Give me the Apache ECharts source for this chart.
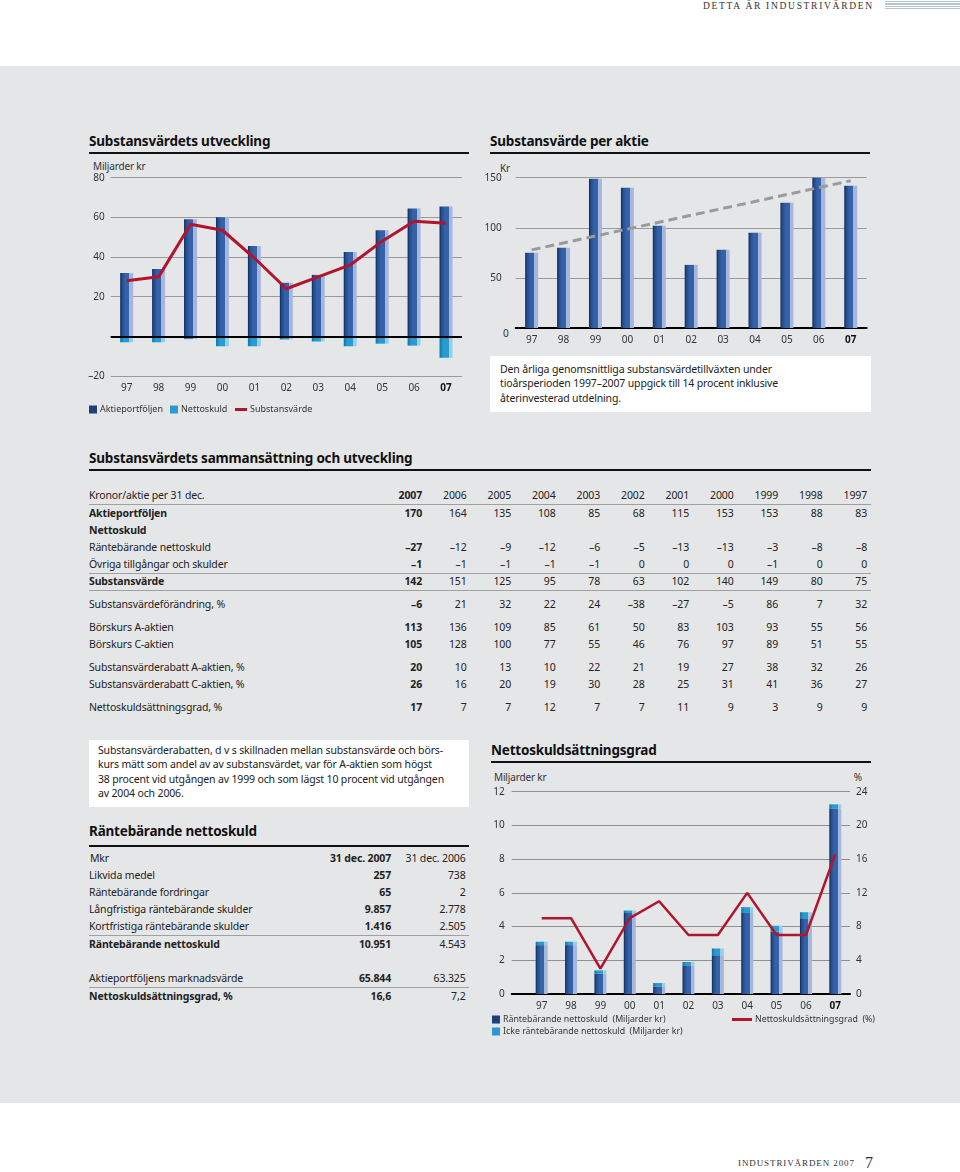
<!DOCTYPE html>
<html lang="sv">
<head>
<meta charset="utf-8">
<title>Substansvärdets utveckling</title>
<script src="https://cdn.jsdelivr.net/npm/echarts@6/dist/echarts.min.js"></script>
<style>
  html, body { margin: 0; padding: 0; }
  body { width: 960px; height: 1172px; position: relative; background: #fff; font-family: 'Noto Sans', sans-serif; color: #222; overflow: hidden; }
  .panel { position: absolute; left: 0; top: 66px; width: 960px; height: 1037px; background: #e5e6e7; }
  .t { position: absolute; white-space: nowrap; font-size: 10.5px; line-height: 14px; letter-spacing: -0.15px; }
  .r { text-align: right; }
  .b { font-weight: bold; }
  .h { position: absolute; font-weight: bold; font-size: 13.5px; letter-spacing: -0.2px; white-space: nowrap; line-height: 18px; color: #111; }
  .rule { position: absolute; height: 2px; background: #111; }
  .hair { position: absolute; height: 1px; background: #a0a0a0; }
  .box { position: absolute; background: #fff; }
  .chart { position: absolute; }
  .serif { position: absolute; font-family: 'Liberation Serif', 'DejaVu Serif', serif; white-space: nowrap; color: #333; }
</style>
</head>
<body>
<div class="panel"></div>

<!-- sidhuvud / sidfot -->
<div class="serif" style="left:703px; top:0px; font-size:9.5px; letter-spacing:1.7px; line-height:12px;">DETTA ÄR INDUSTRIVÄRDEN</div>
<div style="position:absolute; left:885px; top:1px; width:75px; height:8px; background:repeating-linear-gradient(#b7c3ce 0 1px, #fff 1px 2.5px);"></div>
<div class="serif" style="left:738px; top:1157px; font-size:9px; letter-spacing:0.9px; line-height:12px;">INDUSTRIVÄRDEN 2007</div>
<div class="serif" style="left:865px; top:1154px; font-size:16px; line-height:18px;">7</div>

<!-- diagram 1 -->
<div class="h" style="left:89px; top:132px;">Substansvärdets utveckling</div>
<div class="rule" style="left:89px; top:152px; width:380px;"></div>
<div class="t" style="left:93px; top:159px; font-size:10px; color:#333;">Miljarder kr</div>
<div id="c1" class="chart" style="left:80px; top:155px; width:400px; height:270px;"></div>

<!-- diagram 2 -->
<div class="h" style="left:490px; top:132px;">Substansvärde per aktie</div>
<div class="rule" style="left:490px; top:152px; width:380px;"></div>
<div class="t" style="left:500px; top:161px; font-size:10px; color:#333;">Kr</div>
<div class="t" style="left:503px; top:326px; font-size:10px; color:#333;">0</div>
<div id="c2" class="chart" style="left:480px; top:155px; width:400px; height:195px;"></div>
<div class="box" style="left:490px; top:356px; width:381px; height:56px;"></div>
<div class="t" style="left:500px; top:362px; font-size:10.5px; line-height:14.3px;">Den årliga genomsnittliga substansvärdetillväxten under<br>tioårsperioden 1997–2007 uppgick till 14 procent inklusive<br>återinvesterad utdelning.</div>

<!-- tabell 1 -->
<div class="h" style="left:89px; top:449px;">Substansvärdets sammansättning och utveckling</div>
<div class="rule" style="left:89px; top:469px; width:782px;"></div>
<div class="hair" style="left:89px; top:504px; width:782px;"></div>
<div class="hair" style="left:89px; top:573px; width:782px;"></div>
<div class="hair" style="left:89px; top:590px; width:782px;"></div>

<!-- ruta vänster -->
<div class="box" style="left:89px; top:740px; width:380px; height:67px;"></div>
<div class="t" style="left:98px; top:743px; line-height:14.3px;">Substansvärderabatten, d v s skillnaden mellan substansvärde och börs-<br>kurs mätt som andel av av substansvärdet, var för A-aktien som högst<br>38 procent vid utgången av 1999 och som lägst 10 procent vid utgången<br>av 2004 och 2006.</div>

<!-- tabell 2 -->
<div class="h" style="left:89px; top:822px;">Räntebärande nettoskuld</div>
<div class="rule" style="left:89px; top:845px; width:380px;"></div>
<div class="hair" style="left:89px; top:935px; width:380px;"></div>
<div class="hair" style="left:89px; top:987px; width:380px;"></div>

<!-- diagram 3 -->
<div class="h" style="left:491px; top:741px;">Nettoskuldsättningsgrad</div>
<div class="rule" style="left:491px; top:761px; width:380px;"></div>
<div class="t" style="left:494px; top:770px; font-size:10px; color:#333;">Miljarder kr</div>
<div class="t r" style="right:98px; top:770px; font-size:10px; color:#333;">%</div>
<div id="c3" class="chart" style="left:480px; top:765px; width:420px; height:280px;"></div>

<script>
// ---- data ----
var cats = ['97', '98', '99', '00', '01', '02', '03', '04', '05', '06', '07'];

// Substansvärdets utveckling, miljarder kr
var aktieportfoljen = [32, 34, 59, 60, 45.5, 27, 31, 42.5, 53.5, 64.5, 65.5];
var nettoskuld = [-3, -3, -1.4, -5, -5, -1.6, -2.6, -5, -3.7, -4.7, -10.8];
var substansvarde = [28, 30, 56.5, 53.5, 39.5, 24, 30, 36, 48, 58, 57];

// Substansvärde per aktie, kr
var perAktie = [75, 80, 149, 140, 102, 63, 78, 95, 125, 151, 142];
var trendEnds = [78, 147];

// Nettoskuldsättningsgrad
var rantebarande = [2.9, 2.9, 1.2, 4.8, 0.45, 1.7, 2.3, 4.8, 3.7, 4.5, 11.0];
var ickeRantebarande = [0.2, 0.2, 0.2, 0.15, 0.2, 0.2, 0.4, 0.35, 0.35, 0.35, 0.25];
var skuldsattningsgrad = [9, 9, 3, 9, 11, 7, 7, 12, 7, 7, 16.6];

// Tabell: Kronor/aktie per 31 dec.
var tabYears = ['2007', '2006', '2005', '2004', '2003', '2002', '2001', '2000', '1999', '1998', '1997'];
var tabRows = [
  ['Aktieportföljen', true, [170, 164, 135, 108, 85, 68, 115, 153, 153, 88, 83]],
  ['Nettoskuld', true, null],
  ['Räntebärande nettoskuld', false, [-27, -12, -9, -12, -6, -5, -13, -13, -3, -8, -8]],
  ['Övriga tillgångar och skulder', false, [-1, -1, -1, -1, -1, 0, 0, 0, -1, 0, 0]],
  ['Substansvärde', true, [142, 151, 125, 95, 78, 63, 102, 140, 149, 80, 75]],
  ['Substansvärdeförändring, %', false, [-6, 21, 32, 22, 24, -38, -27, -5, 86, 7, 32]],
  ['Börskurs A-aktien', false, [113, 136, 109, 85, 61, 50, 83, 103, 93, 55, 56]],
  ['Börskurs C-aktien', false, [105, 128, 100, 77, 55, 46, 76, 97, 89, 51, 55]],
  ['Substansvärderabatt A-aktien, %', false, [20, 10, 13, 10, 22, 21, 19, 27, 38, 32, 26]],
  ['Substansvärderabatt C-aktien, %', false, [26, 16, 20, 19, 30, 28, 25, 31, 41, 36, 27]],
  ['Nettoskuldsättningsgrad, %', false, [17, 7, 7, 12, 7, 7, 11, 9, 3, 9, 9]]
];

// Tabell: Räntebärande nettoskuld, Mkr
var t2Head = ['Mkr', '31 dec. 2007', '31 dec. 2006'];
var t2Rows = [
  ['Likvida medel', false, '257', '738'],
  ['Räntebärande fordringar', false, '65', '2'],
  ['Långfristiga räntebärande skulder', false, '9.857', '2.778'],
  ['Kortfristiga räntebärande skulder', false, '1.416', '2.505'],
  ['Räntebärande nettoskuld', true, '10.951', '4.543'],
  ['Aktieportföljens marknadsvärde', false, '65.844', '63.325'],
  ['Nettoskuldsättningsgrad, %', true, '16,6', '7,2']
];

// ---- tabeller ----
function put(x, yc, html, cls, right) {
  var d = document.createElement('div');
  d.className = 't' + (cls ? ' ' + cls : '');
  d.innerHTML = html;
  d.style.top = (yc - 7) + 'px';
  if (right) { d.style.right = (960 - x) + 'px'; d.className += ' r'; }
  else d.style.left = x + 'px';
  document.body.appendChild(d);
}
function fmt(v) { return v < 0 ? '–' + Math.abs(v) : String(v); }

var colRight = [422, 466.5, 511, 555.5, 600, 644.5, 689, 733.5, 778, 822.5, 867];
var rowY = [512.5, 529.5, 547, 564, 581, 604, 627, 644, 667, 684, 707];
put(89, 495, 'Kronor/aktie per 31 dec.');
tabYears.forEach(function (y, j) { put(colRight[j], 495, y, j === 0 ? 'b' : '', true); });
tabRows.forEach(function (row, i) {
  put(89, rowY[i], row[0], row[1] ? 'b' : '');
  if (row[2]) row[2].forEach(function (v, j) { put(colRight[j], rowY[i], fmt(v), j === 0 ? 'b' : '', true); });
});

var t2Right = [391, 465.5];
var t2Y = [875, 892, 909, 926, 944, 978, 996];
put(90, 858, t2Head[0]);
put(t2Right[0], 858, t2Head[1], 'b', true);
put(t2Right[1], 858, t2Head[2], '', true);
t2Rows.forEach(function (row, i) {
  put(89, t2Y[i], row[0], row[1] ? 'b' : '');
  put(t2Right[0], t2Y[i], row[2], 'b', true);
  put(t2Right[1], t2Y[i], row[3], '', true);
});

// ---- diagram ----
var navy = '#1d3f7a', cyan = '#2a9ad0', red = '#b2142e';
function barFace() {
  return new echarts.graphic.LinearGradient(0, 0, 1, 0, [
    {offset: 0, color: '#10295a'},
    {offset: 0.15, color: '#244c8c'},
    {offset: 0.4, color: '#3461a8'},
    {offset: 0.7, color: '#3562a8'},
    {offset: 0.7, color: '#a5b8dc'},
    {offset: 1, color: '#a5b8dc'}
  ]);
}
function cyanFace() {
  return new echarts.graphic.LinearGradient(0, 0, 1, 0, [
    {offset: 0, color: '#0d78a8'},
    {offset: 0.3, color: '#2a9ad0'},
    {offset: 0.7, color: '#2a9ad0'},
    {offset: 0.7, color: '#95cfe8'},
    {offset: 1, color: '#95cfe8'}
  ]);
}
var font = 'Noto Sans';
var labelRich = {b: {fontWeight: 'bold', fontSize: 10, color: '#111', fontFamily: font}};
function catLabel(v) { return v === '07' ? '{b|07}' : v; }

// Substansvärdets utveckling
var leg1Text = {fontSize: 9, color: '#333', padding: [0, 0, 0, -2]};
var c1 = echarts.init(document.getElementById('c1'));
c1.setOption({
  animation: false,
  textStyle: {fontFamily: font},
  grid: {left: 30.7, right: 18, top: 22.7, bottom: 49},
  legend: [
    {left: 9, top: 250, itemWidth: 8, itemHeight: 8, itemGap: 7, padding: 0, textStyle: leg1Text,
      data: [
        {name: 'Aktieportföljen', icon: 'rect', itemStyle: {color: navy}},
        {name: 'Nettoskuld', icon: 'rect', itemStyle: {color: cyan}}
      ]},
    {left: 155, top: 250, itemWidth: 12, itemHeight: 3, padding: 0, textStyle: leg1Text,
      data: [{name: 'Substansvärde', icon: 'rect', itemStyle: {color: red}}]}
  ],
  xAxis: {
    type: 'category', data: cats,
    axisLine: {show: false, onZero: false}, axisTick: {show: false},
    axisLabel: {interval: 0, margin: 7, fontSize: 10, color: '#333', formatter: catLabel, rich: labelRich}
  },
  yAxis: {
    type: 'value', min: -20, max: 80, interval: 20,
    axisLine: {show: false}, axisTick: {show: false},
    axisLabel: {margin: 6, fontSize: 10, color: '#333',
      formatter: function (v) { return v === 0 ? '' : fmt(v); }},
    splitLine: {lineStyle: {color: '#9a9a9a', width: 1}}
  },
  series: [
    {name: 'Aktieportföljen', type: 'bar', stack: 'x', barWidth: 13, data: aktieportfoljen,
      itemStyle: {color: barFace()},
      markLine: {silent: true, symbol: 'none', label: {show: false},
        lineStyle: {color: '#000', width: 2, type: 'solid'}, data: [{yAxis: 0}]}},
    {name: 'Nettoskuld', type: 'bar', stack: 'x', barWidth: 13, data: nettoskuld,
      itemStyle: {color: cyanFace()}},
    {name: 'Substansvärde', type: 'line', data: substansvarde, symbol: 'none',
      itemStyle: {color: red}, lineStyle: {color: red, width: 3}, z: 5}
  ]
});

// Substansvärde per aktie
var c2 = echarts.init(document.getElementById('c2'));
c2.setOption({
  animation: false,
  textStyle: {fontFamily: font},
  grid: {left: 35.7, right: 13.3, top: 22.7, bottom: 22},
  xAxis: {
    type: 'category', data: cats,
    axisLine: {lineStyle: {color: '#000', width: 2}}, axisTick: {show: false},
    axisLabel: {interval: 0, margin: 7, fontSize: 10, color: '#333', formatter: catLabel, rich: labelRich}
  },
  yAxis: {
    type: 'value', min: 0, max: 150, interval: 50,
    axisLine: {show: false}, axisTick: {show: false},
    axisLabel: {margin: 14, fontSize: 10, color: '#333',
      formatter: function (v) { return v === 0 ? '' : v; }},
    splitLine: {lineStyle: {color: '#9a9a9a', width: 1}}
  },
  series: [
    {name: 'Substansvärde per aktie', type: 'bar', barWidth: 13, data: perAktie,
      itemStyle: {color: barFace()}},
    {name: 'Trend', type: 'line', symbol: 'none', connectNulls: true, z: 5,
      data: cats.map(function (c, i) { return i === 0 ? trendEnds[0] : (i === cats.length - 1 ? trendEnds[1] : null); }),
      lineStyle: {color: '#9b9b9b', width: 3, type: [9, 5]}}
  ]
});

// Nettoskuldsättningsgrad
// grid 0: stödlinjer och axlar över hela bredden, grid 1: staplar och linje
var n1 = 'Räntebärande nettoskuld  (Miljarder kr)';
var n2 = 'Icke räntebärande nettoskuld  (Miljarder kr)';
var n3 = 'Nettoskuldsättningsgrad  (%)';
var legText = {fontSize: 8.8, color: '#333', padding: [0, 0, 0, -2]};
var hidden = {show: false};
var c3 = echarts.init(document.getElementById('c3'));
c3.setOption({
  animation: false,
  textStyle: {fontFamily: font},
  grid: [
    {left: 31.7, right: 50, top: 26.7, bottom: 51},
    {left: 47, right: 50, top: 26.7, bottom: 51}
  ],
  legend: [
    {left: 12, top: 250, itemWidth: 8, itemHeight: 8, padding: 0, textStyle: legText,
      data: [{name: n1, icon: 'rect', itemStyle: {color: navy}}]},
    {left: 12, top: 262, itemWidth: 8, itemHeight: 8, padding: 0, textStyle: legText,
      data: [{name: n2, icon: 'rect', itemStyle: {color: cyan}}]},
    {left: 252, top: 250, itemWidth: 20, itemHeight: 3, padding: 0, textStyle: legText,
      data: [{name: n3, icon: 'rect', itemStyle: {color: red}}]}
  ],
  xAxis: [
    {type: 'value', gridIndex: 0, min: 0, max: 1,
      axisLine: {onZero: false, lineStyle: {color: '#000', width: 2}}, axisTick: hidden,
      axisLabel: hidden, splitLine: hidden},
    {type: 'category', gridIndex: 1, data: cats,
      axisLine: {show: false, onZero: false}, axisTick: hidden, splitLine: hidden,
      axisLabel: {interval: 0, margin: 7, fontSize: 10, color: '#333', formatter: catLabel, rich: labelRich}}
  ],
  yAxis: [
    {type: 'value', gridIndex: 0, min: 0, max: 12, interval: 2,
      axisLine: hidden, axisTick: hidden,
      axisLabel: {margin: 7, fontSize: 10, color: '#333'},
      splitLine: {lineStyle: {color: '#8f8f8f', width: 1}}},
    {type: 'value', gridIndex: 0, min: 0, max: 24, interval: 4, position: 'right',
      axisLine: hidden, axisTick: hidden,
      axisLabel: {margin: 6, fontSize: 10, color: '#333'},
      splitLine: hidden},
    {type: 'value', gridIndex: 1, min: 0, max: 12, interval: 2,
      axisLine: hidden, axisTick: hidden, axisLabel: hidden, splitLine: hidden},
    {type: 'value', gridIndex: 1, min: 0, max: 24, interval: 4, position: 'right',
      axisLine: hidden, axisTick: hidden, axisLabel: hidden, splitLine: hidden}
  ],
  series: [
    {name: n1, type: 'bar', stack: 's', barWidth: 12, xAxisIndex: 1, yAxisIndex: 2,
      data: rantebarande, itemStyle: {color: barFace()}},
    {name: n2, type: 'bar', stack: 's', barWidth: 12, xAxisIndex: 1, yAxisIndex: 2,
      data: ickeRantebarande, itemStyle: {color: cyanFace()}},
    {name: n3, type: 'line', xAxisIndex: 1, yAxisIndex: 3, symbol: 'none', data: skuldsattningsgrad,
      itemStyle: {color: red}, lineStyle: {color: red, width: 2.5}, z: 5}
  ]
});
</script>
</body>
</html>
